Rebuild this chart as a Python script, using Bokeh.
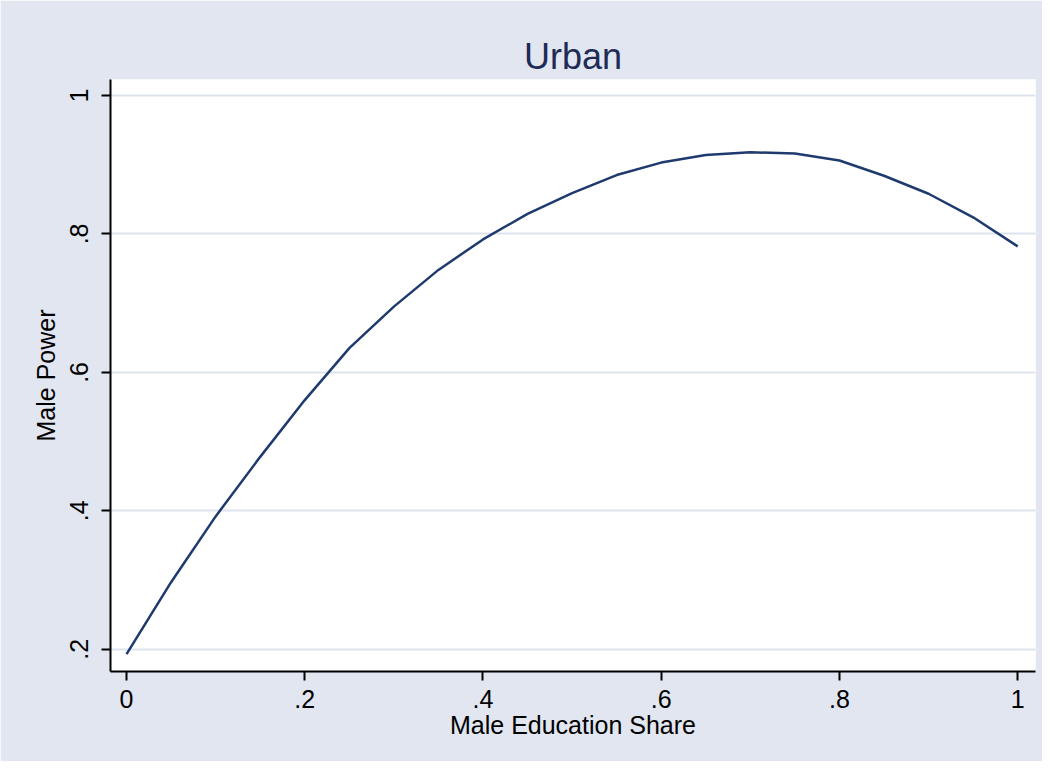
from bokeh.plotting import figure
from bokeh.models import Range1d, FixedTicker
from bokeh.embed import file_html
from bokeh.resources import INLINE

# Data
edu_share = [0.0, 0.05, 0.10, 0.15, 0.20, 0.25, 0.30, 0.35, 0.40, 0.45, 0.50,
             0.55, 0.60, 0.65, 0.70, 0.75, 0.80, 0.85, 0.90, 0.95, 1.0]
male_power = [0.193, 0.297, 0.392, 0.478, 0.560, 0.635, 0.695, 0.748, 0.792, 0.829, 0.859,
              0.885, 0.903, 0.914, 0.918, 0.916, 0.906, 0.884, 0.858, 0.824, 0.782]

x_ticks = [0, 0.2, 0.4, 0.6, 0.8, 1.0]
x_tick_labels = ["0", ".2", ".4", ".6", ".8", "1"]
y_ticks = [0.2, 0.4, 0.6, 0.8, 1.0]
y_tick_labels = [".2", ".4", ".6", ".8", "1"]

BG = "#e1e6f0"
FONT = "Liberation Sans"

p = figure(width=1042, height=761, output_backend="svg", toolbar_location=None,
           x_range=Range1d(-0.018, 1.02), y_range=Range1d(0.168, 1.023),
           min_border_left=110, min_border_right=7, min_border_top=79, min_border_bottom=90,
           frame_width=925, frame_height=592,
           title="Urban")

p.background_fill_color = "white"
p.border_fill_color = BG
p.outline_line_color = None

p.title.text_font = FONT
p.title.text_font_size = "36px"
p.title.text_font_style = "normal"
p.title.text_color = "#1e2b55"
p.title.align = "center"
p.title.standoff = 6

p.line(edu_share, male_power, line_color="#1f3a6e", line_width=2.5)

# grid
p.xgrid.grid_line_color = None
p.ygrid.ticker = FixedTicker(ticks=y_ticks)
p.ygrid.grid_line_color = "#dde3ee"
p.ygrid.grid_line_width = 2

# axes
p.xaxis.ticker = FixedTicker(ticks=x_ticks)
p.xaxis.major_label_overrides = {t: l for t, l in zip(x_ticks, x_tick_labels)}
p.yaxis.ticker = FixedTicker(ticks=y_ticks)
p.yaxis.major_label_overrides = {t: l for t, l in zip(y_ticks, y_tick_labels)}
p.yaxis.major_label_orientation = "vertical"

for ax in (p.xaxis[0], p.yaxis[0]):
    ax.axis_line_color = "black"
    ax.axis_line_width = 2
    ax.major_tick_line_color = "black"
    ax.major_tick_line_width = 2
    ax.major_tick_out = 9
    ax.major_tick_in = 0
    ax.minor_tick_line_color = None
    ax.major_label_text_font = FONT
    ax.major_label_text_font_size = "25px"
    ax.major_label_text_color = "black"
    ax.axis_label_text_font = FONT
    ax.axis_label_text_font_size = "25px"
    ax.axis_label_text_font_style = "normal"
    ax.axis_label_text_color = "black"

p.xaxis.axis_label = "Male Education Share"
p.yaxis.axis_label = "Male Power"
p.xaxis.major_label_standoff = 9
p.xaxis.axis_label_standoff = 0
p.yaxis.major_label_standoff = 13
p.yaxis.axis_label_standoff = 8

open("out.html", "w").write(file_html(p, INLINE))
